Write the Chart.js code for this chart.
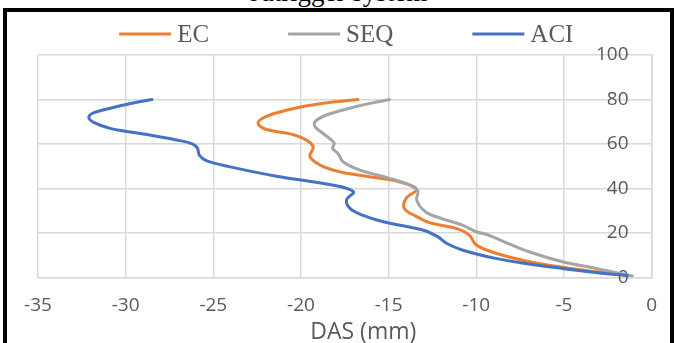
<!DOCTYPE html>
<html>
<head>
<meta charset="utf-8">
<script src="https://cdn.jsdelivr.net/npm/chart.js@4.4.1/dist/chart.umd.min.js"></script>
<style>
  html, body { margin: 0; padding: 0; background: #fff; }
  body { width: 674px; height: 343px; overflow: hidden; position: relative; }
  #title {
    position: absolute; left: 0; top: -23px; width: 674px;
    text-align: center; font: 27px "Liberation Serif", serif; line-height: 30px; color: #000;
  }
  #frame {
    position: absolute; left: 3px; top: 8px; width: 671px; height: 400px;
    border: 4px solid #000; box-sizing: border-box;
  }
  canvas { position: absolute; left: 0; top: 0; }
</style>
</head>
<body>
<div id="title">outrigger system</div>
<div id="frame"></div>
<canvas id="chart" width="674" height="343"></canvas>
<script>
// Storey height (m) and lateral displacement DAS (mm) for each code
const ecHeight  = [80, 78.3, 75.6, 72.3, 69.3, 66.6, 64.5, 61.8, 58.8, 56.5, 54.3, 50.5, 47.5, 45, 43, 39.7, 35.5, 31, 27.3, 24.6, 22, 19, 14.5, 10.8, 7, 4.5, 2.5, 0.8];
const ecDas     = [-16.75, -18.75, -20.6, -22.0, -22.45, -22.0, -20.6, -19.7, -19.3, -19.4, -19.5, -18.9, -17.8, -15.9, -14.4, -13.4, -14.0, -14.1, -13.4, -12.67, -11.15, -10.4, -10.0, -8.87, -6.98, -5.08, -3.18, -1.3];

const seqHeight = [80, 76.8, 73, 70, 67.8, 64.8, 61.8, 60.3, 58, 55.8, 52, 48.3, 44.5, 41.5, 38.8, 34.8, 29.5, 26.5, 23.5, 20.5, 19, 16.3, 11.5, 7, 4, 0.6];
const seqDas    = [-14.95, -16.85, -18.55, -19.2, -19.2, -18.75, -18.27, -18.1, -18.2, -17.9, -17.6, -16.66, -14.95, -13.8, -13.33, -13.4, -12.9, -12.0, -10.8, -10.0, -9.3, -8.5, -7.0, -5.08, -3.18, -1.1];

const aciHeight = [80, 77.5, 74.1, 72, 69.8, 67, 65.8, 63.7, 61.8, 60, 58, 55, 52.5, 49.8, 45.5, 41.5, 38.5, 34.8, 31, 28, 25, 21.3, 18.3, 15.3, 12.3, 8.5, 6, 4, 2.2, 0.8];
const aciDas    = [-28.5, -30.1, -31.8, -32.1, -31.85, -30.9, -30.1, -28.4, -27.1, -26.2, -25.9, -25.8, -25.4, -24.1, -21.4, -18.2, -17.0, -17.4, -17.2, -16.5, -15.3, -13.05, -12.2, -11.7, -10.8, -8.9, -7.0, -5.1, -3.2, -1.4];

const seriesNames = ['EC', 'SEQ', 'ACI'];
const xAxisTitle = 'DAS (mm)';
const xTicks = { min: -35, max: 0, step: 5 };
const yTicks = { min: 0, max: 100, step: 20 };

const toPoints = (xs, ys) => xs.map((x, i) => ({ x: x, y: ys[i] }));

const GRID = '#D9D9D9';
const TEXT = '#595959';

// Legend as a single centred row (coloured line + label), plus the x-axis title
const chartText = {
  id: 'chartText',
  afterDraw(chart) {
    const ctx = chart.ctx;
    const area = chart.chartArea;
    const lineLen = 52, textGap = 6, itemGap = 79, y = 34;
    ctx.save();
    ctx.font = '25px "Liberation Serif"';
    ctx.textBaseline = 'middle';
    ctx.textAlign = 'left';
    const items = chart.data.datasets.map(ds => ({
      label: ds.label, color: ds.borderColor, w: ctx.measureText(ds.label).width
    }));
    const total = items.reduce((s, it) => s + lineLen + textGap + it.w, 0) + itemGap * (items.length - 1);
    let x = (area.left + area.right) / 2 + 1.5 - total / 2;
    items.forEach(it => {
      ctx.strokeStyle = it.color;
      ctx.lineWidth = 3;
      ctx.beginPath();
      ctx.moveTo(x, y);
      ctx.lineTo(x + lineLen, y);
      ctx.stroke();
      ctx.fillStyle = TEXT;
      ctx.fillText(it.label, x + lineLen + textGap, y + 1);
      x += lineLen + textGap + it.w + itemGap;
    });

    // axis title sits a little right of the plot centre
    ctx.font = '23px "Open Sans"';
    ctx.textAlign = 'center';
    ctx.fillStyle = TEXT;
    ctx.fillText(xAxisTitle, (area.left + area.right) / 2 + 18.5, 332);
    ctx.restore();
  }
};

new Chart(document.getElementById('chart'), {
  type: 'scatter',
  data: {
    datasets: [
      { label: seriesNames[0], data: toPoints(ecDas, ecHeight),   borderColor: '#ED7D31', order: 2 },
      { label: seriesNames[1], data: toPoints(seqDas, seqHeight), borderColor: '#A5A5A5', order: 1 },
      { label: seriesNames[2], data: toPoints(aciDas, aciHeight), borderColor: '#4472C4', order: 0 }
    ].map(ds => Object.assign(ds, {
      showLine: true, borderWidth: 3, pointRadius: 0, tension: 0.35, fill: false,
      borderCapStyle: 'round', borderJoinStyle: 'round'
    }))
  },
  options: {
    responsive: false,
    animation: false,
    layout: { padding: { left: 38, right: 22, top: 55, bottom: 0 } },
    plugins: { legend: { display: false }, tooltip: { enabled: false } },
    scales: {
      x: {
        type: 'linear',
        min: xTicks.min, max: xTicks.max,
        ticks: { stepSize: xTicks.step, color: TEXT, padding: 17, font: { family: 'Open Sans', size: 19 } },
        grid: { color: GRID, lineWidth: 1.5, drawTicks: false },
        border: { color: GRID, width: 1.5 },
        afterFit(scale) { scale.height = 65.7; }
      },
      y: {
        type: 'linear',
        position: 'right',
        min: yTicks.min, max: yTicks.max,
        ticks: { stepSize: yTicks.step, mirror: true, padding: -23, color: TEXT, font: { family: 'Open Sans', size: 19 } },
        grid: { color: GRID, lineWidth: 1.5, drawTicks: false },
        border: { color: GRID, width: 1.5 }
      }
    }
  },
  plugins: [chartText]
});
</script>
</body>
</html>
